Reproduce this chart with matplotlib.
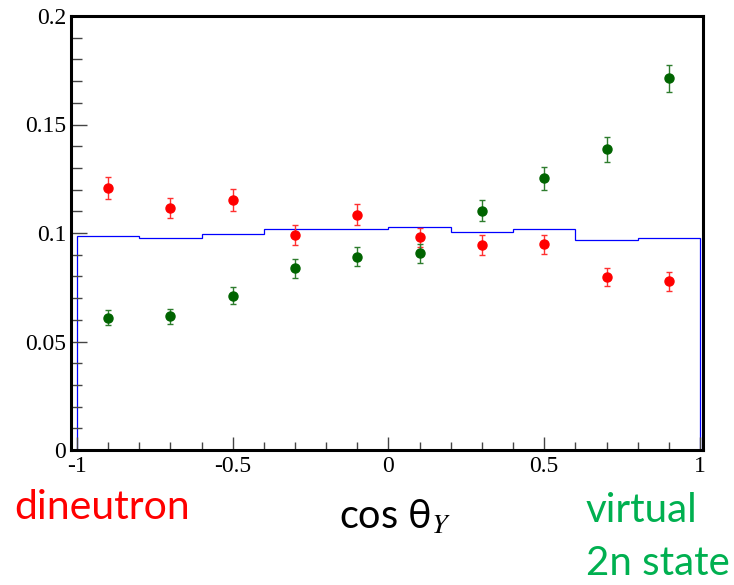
import numpy as np
import matplotlib.pyplot as plt
from matplotlib.ticker import MultipleLocator, FixedLocator

plt.rcParams['font.family'] = ['Liberation Serif', 'DejaVu Serif']

# dati
x_centers = [-0.9, -0.7, -0.5, -0.3, -0.1, 0.1, 0.3, 0.5, 0.7, 0.9]
dineutron = [0.1206, 0.1115, 0.1151, 0.0992, 0.1084, 0.0980, 0.0945, 0.0948, 0.0797, 0.0777]
dineutron_err = [0.0051, 0.0048, 0.0051, 0.0045, 0.0048, 0.0045, 0.0046, 0.0045, 0.0042, 0.0042]
virtual = [0.0610, 0.0616, 0.0711, 0.0837, 0.0891, 0.0906, 0.1103, 0.1252, 0.1386, 0.1713]
virtual_err = [0.0035, 0.0035, 0.0039, 0.0045, 0.0045, 0.0044, 0.0047, 0.0052, 0.0057, 0.0062]
bin_edges = [-1.0, -0.8, -0.6, -0.4, -0.2, 0.0, 0.2, 0.4, 0.6, 0.8, 1.0]
phase_space = [0.0985, 0.0977, 0.0997, 0.1020, 0.1020, 0.1029, 0.1004, 0.1018, 0.0969, 0.0977]

yticks = [0, 0.05, 0.1, 0.15, 0.2]
ytick_labels = ['0', '0.05', '0.1', '0.15', '0.2']
xticks = [-1, -0.5, 0, 0.5, 1]
xtick_labels = ['-1', '-0.5', '0', '0.5', '1']

fig = plt.figure(figsize=(7.34, 5.85), dpi=100)
ax = fig.add_axes([71/734, 1 - 450/585, 632/734, 434/585])

# istogramma (spazio delle fasi)
ax.stairs(phase_space, bin_edges, baseline=0, color='#0000ff', lw=0.9)

# punti con errori
ax.errorbar(x_centers, dineutron, yerr=dineutron_err, fmt='o', color='#ff0000',
            ms=6.5, ecolor='#ff3030', elinewidth=1, capsize=2.5, capthick=1)
ax.errorbar(x_centers, virtual, yerr=virtual_err, fmt='o', color='#006400',
            ms=6.5, ecolor='#2e7d2e', elinewidth=1, capsize=2.5, capthick=1)

ax.set_xlim(-1.019, 1.0096)
ax.set_ylim(0, 0.2)

ax.xaxis.set_major_locator(FixedLocator(xticks))
ax.set_xticklabels(xtick_labels)
ax.xaxis.set_minor_locator(MultipleLocator(0.1))
ax.yaxis.set_major_locator(FixedLocator(yticks))
ax.set_yticklabels(ytick_labels)
ax.yaxis.set_minor_locator(MultipleLocator(0.01))

ax.tick_params(axis='both', which='both', direction='in', color='#444444', width=1,
               top=False, right=False, labelsize=17)
ax.tick_params(axis='x', which='major', length=9.5, pad=4)
ax.tick_params(axis='x', which='minor', length=6)
ax.tick_params(axis='y', which='major', length=11.5, pad=3.5)
ax.tick_params(axis='y', which='minor', length=8)

for s in ax.spines.values():
    s.set_linewidth(2.2)
    s.set_color('black')

# etichette
fig.text(14/734, 1 - 519/585, 'dineutron', color='#ff0000', family='Lato',
         fontsize=29.5, va='baseline', ha='left')
fig.text(339/734, 1 - 529/585, r'cos θ$_{Y}$', color='black', family='Lato',
         fontsize=28.5, va='baseline', ha='left', math_fontfamily='stix')
fig.text(586/734, 1 - 522/585, 'virtual', color='#00b050', family='Lato',
         fontsize=29, va='baseline', ha='left')
fig.text(586/734, 1 - 575/585, '2n state', color='#00b050', family='Lato',
         fontsize=29, va='baseline', ha='left')

fig.savefig('out.png', dpi=100)
